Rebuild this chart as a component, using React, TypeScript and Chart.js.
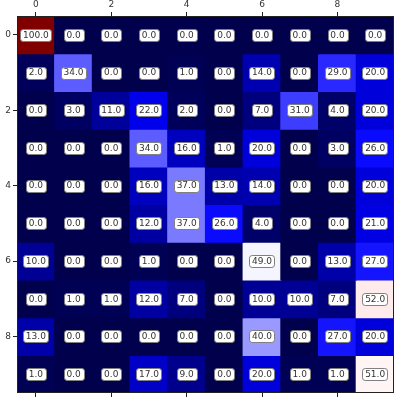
import React, { useEffect, useRef } from "react";
import { Chart, registerables } from "chart.js";

Chart.register(...registerables);

const columns = ["0", "1", "2", "3", "4", "5", "6", "7", "8", "9"];
const tickValues = [0, 2, 4, 6, 8];
const row0 = [100, 0, 0, 0, 0, 0, 0, 0, 0, 0];
const row1 = [2, 34, 0, 0, 1, 0, 14, 0, 29, 20];
const row2 = [0, 3, 11, 22, 2, 0, 7, 31, 4, 20];
const row3 = [0, 0, 0, 34, 16, 1, 20, 0, 3, 26];
const row4 = [0, 0, 0, 16, 37, 13, 14, 0, 0, 20];
const row5 = [0, 0, 0, 12, 37, 26, 4, 0, 0, 21];
const row6 = [10, 0, 0, 1, 0, 0, 49, 0, 13, 27];
const row7 = [0, 1, 1, 12, 7, 0, 10, 10, 7, 52];
const row8 = [13, 0, 0, 0, 0, 0, 40, 0, 27, 20];
const row9 = [1, 0, 0, 17, 9, 0, 20, 1, 1, 51];
const rows = [row0, row1, row2, row3, row4, row5, row6, row7, row8, row9];
const vmin = 0;
const vmax = 100;

// matplotlib "seismic" colormap anchors
const seismic = [
  [0.0, 0.0, 0.3],
  [0.0, 0.0, 1.0],
  [1.0, 1.0, 1.0],
  [1.0, 0.0, 0.0],
  [0.5, 0.0, 0.0],
];

function colorFor(v: number): string {
  let t = (v - vmin) / (vmax - vmin);
  t = Math.max(0, Math.min(1, t));
  const pos = t * (seismic.length - 1);
  const i = Math.min(seismic.length - 2, Math.floor(pos));
  const f = pos - i;
  const a = seismic[i];
  const b = seismic[i + 1];
  const c = a.map((x, k) => Math.round((x + (b[k] - x) * f) * 255));
  return `rgb(${c[0]},${c[1]},${c[2]})`;
}

const FONT = "'DejaVu Sans', sans-serif";

const labelPlugin = {
  id: "cellLabels",
  afterDatasetsDraw(chart: any) {
    const ctx = chart.ctx;
    ctx.save();
    ctx.font = `9px ${FONT}`;
    ctx.textAlign = "center";
    ctx.textBaseline = "middle";
    chart.data.datasets.forEach((ds: any, di: number) => {
      const meta = chart.getDatasetMeta(di);
      meta.data.forEach((el: any, ci: number) => {
        const val = ds.values[ci];
        const text = val.toFixed(1);
        const cx = el.x;
        const cy = (el.y + el.base) / 2;
        const w = ctx.measureText(text).width + 5.4;
        const h = 12;
        const x0 = cx - w / 2;
        const y0 = cy - h / 2;
        ctx.beginPath();
        ctx.roundRect(Math.round(x0) + 0.5, Math.round(y0) + 0.5, Math.round(w), h, 2.7);
        ctx.fillStyle = "#ffffff";
        ctx.fill();
        ctx.lineWidth = 1;
        ctx.strokeStyle = "#808080";
        ctx.stroke();
        ctx.fillStyle = "#333333";
        ctx.fillText(text, cx, cy + 0.5);
      });
    });
    // frame
    const a = chart.chartArea;
    ctx.strokeStyle = "#222222";
    ctx.lineWidth = 1;
    ctx.strokeRect(Math.round(a.left) + 0.5, Math.round(a.top) + 0.5, Math.round(a.right - a.left) - 1, Math.round(a.bottom - a.top) - 1);
    ctx.restore();
  },
};

export default function App() {
  const ref = useRef<HTMLCanvasElement | null>(null);
  useEffect(() => {
    document.body.style.margin = "0";
    if (!ref.current) return;
    const datasets = rows.map((r, ri) => ({
      label: `row ${ri}`,
      data: r.map(() => [ri - 0.5, ri + 0.5]),
      values: r,
      backgroundColor: r.map((v) => colorFor(v)),
      borderWidth: 0,
      inflateAmount: 0.6,
      barPercentage: 1,
      categoryPercentage: 1,
      xAxisID: "x",
      yAxisID: "y",
    }));
    const tickColor = (c: any) => (c.index % 2 === 0 ? "#222222" : "rgba(0,0,0,0)");
    const chart = new Chart(ref.current, {
      type: "bar",
      data: { labels: columns, datasets: datasets as any },
      plugins: [labelPlugin],
      options: {
        animation: false,
        responsive: true,
        maintainAspectRatio: false,
        layout: { padding: { left: 0, top: 0, right: 6, bottom: 0 } },
        plugins: { legend: { display: false }, tooltip: { enabled: false } },
        datasets: { bar: { grouped: false } } as any,
        scales: {
          x: {
            type: "category",
            position: "top",
            offset: true,
            grid: { display: true, drawOnChartArea: false, drawTicks: true, tickLength: 4, offset: false, color: tickColor, tickColor: tickColor },
            border: { display: false },
            ticks: {
              autoSkip: false,
              maxRotation: 0,
              padding: 2,
              color: "#333333",
              font: { family: FONT, size: 9 },
              callback: (v: any, i: number) => (i % 2 === 0 ? columns[i] : ""),
            },
            afterFit: (s: any) => { s.height = 16; },
          },
          x2: {
            type: "category",
            position: "bottom",
            offset: true,
            grid: { display: true, drawOnChartArea: false, drawTicks: true, tickLength: 4, offset: false, color: tickColor, tickColor: tickColor },
            border: { display: false },
            ticks: { display: true, autoSkip: false, color: "rgba(0,0,0,0)", font: { size: 1 }, callback: () => "" },
            afterFit: (s: any) => { s.height = 9; },
          },
          y: {
            type: "linear",
            reverse: true,
            min: -0.5,
            max: 9.5,
            grid: { display: true, drawOnChartArea: false, drawTicks: true, tickLength: 4, color: "#222222", tickColor: "#222222" },
            border: { display: false },
            afterBuildTicks: (s: any) => { s.ticks = tickValues.map((v) => ({ value: v })); },
            ticks: {
              padding: 2,
              color: "#333333",
              font: { family: FONT, size: 9 },
              callback: (v: any) => String(v),
            },
            afterFit: (s: any) => { s.width = 17; },
          },
        },
      } as any,
    });
    return () => chart.destroy();
  }, []);
  return (
    <div style={{ width: 400, height: 402, position: "relative", background: "#fff" }}>
      <canvas ref={ref} />
    </div>
  );
}
